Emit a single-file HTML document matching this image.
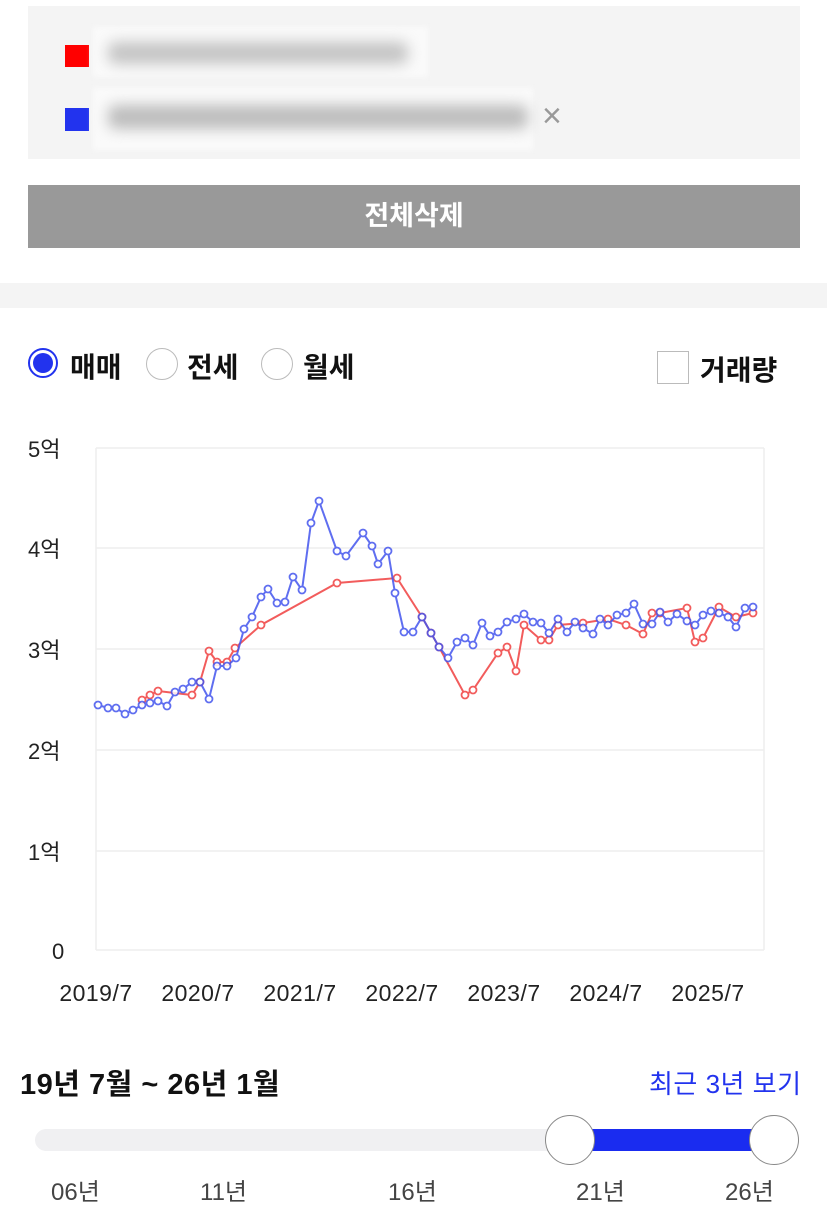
<!DOCTYPE html>
<html><head><meta charset="utf-8"><style>
body{margin:0;width:827px;height:1221px;background:#fff;font-family:"Liberation Sans","Noto Sans CJK KR",sans-serif;position:relative;overflow:hidden}
.a{position:absolute}
.blur{background:#aaa;filter:blur(7px);border-radius:8px}
</style></head><body>
<div class="a" style="left:28px;top:6px;width:772px;height:153px;background:#f4f4f4"></div>
<div class="a" style="left:65px;top:45px;width:24px;height:22px;background:#ff0000"></div>
<div class="a" style="left:65px;top:108px;width:24px;height:23px;background:#2233ee"></div>
<div class="a" style="left:93px;top:27px;width:335px;height:50px;background:#fafafa;filter:blur(3px)"></div>
<div class="a blur" style="left:108px;top:42px;width:300px;height:22px;background:#c4c4c4"></div>
<div class="a" style="left:93px;top:88px;width:440px;height:62px;background:#fafafa;filter:blur(3px)"></div>
<div class="a blur" style="left:108px;top:105px;width:420px;height:24px;background:#bdbdbd"></div>
<div class="a" style="left:542px;top:98px;font-size:34px;color:#999;line-height:36px">×</div>
<div class="a" style="left:28px;top:185px;width:772px;height:63px;background:#999;color:#fff;font-weight:bold;font-size:27px;text-align:center;line-height:63px">전체삭제</div>
<div class="a" style="left:0;top:283px;width:827px;height:25px;background:#f4f4f4"></div>
<div class="a" style="left:28px;top:348px;width:30px;height:30px;border-radius:50%;border:2px solid #2233ee;box-sizing:border-box;background:#fff"></div>
<div class="a" style="left:33px;top:353px;width:20px;height:20px;border-radius:50%;background:#2233ee"></div>
<div class="a" style="left:70px;top:346px;font-size:28px;font-weight:bold;color:#111">매매</div>
<div class="a" style="left:146px;top:348px;width:32px;height:32px;border-radius:50%;border:1px solid #bbb;box-sizing:border-box"></div>
<div class="a" style="left:187px;top:346px;font-size:28px;font-weight:bold;color:#111">전세</div>
<div class="a" style="left:261px;top:348px;width:32px;height:32px;border-radius:50%;border:1px solid #bbb;box-sizing:border-box"></div>
<div class="a" style="left:303px;top:346px;font-size:28px;font-weight:bold;color:#111">월세</div>
<div class="a" style="left:657px;top:351px;width:32px;height:33px;border:1px solid #bbb;box-sizing:border-box"></div>
<div class="a" style="left:700px;top:349px;font-size:28px;font-weight:bold;color:#111">거래량</div>
<svg class="a" style="left:0;top:420px" width="827" height="600" viewBox="0 420 827 600">
<g stroke="#eee" stroke-width="1.5">
<line x1="96" y1="448" x2="764" y2="448"/><line x1="96" y1="548" x2="764" y2="548"/><line x1="96" y1="649" x2="764" y2="649"/><line x1="96" y1="750" x2="764" y2="750"/><line x1="96" y1="851" x2="764" y2="851"/><line x1="96" y1="950" x2="764" y2="950"/>
<line x1="96" y1="448" x2="96" y2="950"/><line x1="764" y1="448" x2="764" y2="950"/>
</g>
<g font-size="22" fill="#222" font-family="Liberation Sans,Noto Sans CJK KR,sans-serif">
<text x="28" y="457">5억</text><text x="28" y="557">4억</text><text x="28" y="658">3억</text><text x="28" y="759">2억</text><text x="28" y="860">1억</text><text x="52" y="959">0</text>
<g text-anchor="middle" font-size="23" letter-spacing="0.5"><text x="96" y="1001">2019/7</text><text x="198" y="1001">2020/7</text><text x="300" y="1001">2021/7</text><text x="402" y="1001">2022/7</text><text x="504" y="1001">2023/7</text><text x="606" y="1001">2024/7</text><text x="708" y="1001">2025/7</text></g>
</g>
<g id="r" fill="none" stroke="#f04040" stroke-width="2" opacity="0.85">
<polyline points="142,700 150,695 158,691 192,695 200,682 209,651 217,662 227,662 235,648 261,625 337,583 397,578 422,617 431,633 439,647 465,695 473,690 498,653 507,647 516,671 524,625 541,640 549,640 558,625 583,623 608,619 626,625 643,634 652,613 660,613 687,608 695,642 703,638 719,607 736,617 753,613"/>
</g>
<g id="b" fill="none" stroke="#4455ee" stroke-width="2" opacity="0.85">
<polyline points="98,705 108,708 116,708 125,714 133,710 142,705 150,703 158,701 167,706 175,692 183,689 192,682 200,682 209,699 217,666 227,666 236,658 244,629 252,617 261,597 268,589 277,603 285,602 293,577 302,590 311,523 319,501 337,551 346,556 363,533 372,546 378,564 388,551 395,593 404,632 413,632 422,617 431,633 439,647 448,658 457,642 465,638 473,645 482,623 490,636 498,632 507,622 516,619 524,614 533,622 541,623 549,633 558,619 567,632 575,622 583,628 593,634 600,619 608,625 617,615 626,613 634,604 643,624 652,624 660,612 668,622 677,614 687,621 695,625 703,615 711,611 719,613 728,617 736,627 745,608 753,607"/>
</g>
</svg>
<div class="a" style="left:20px;top:1061px;font-size:29px;font-weight:bold;color:#111;letter-spacing:0.5px">19년 7월 ~ 26년 1월</div>
<div class="a" style="left:649px;top:1064px;font-size:26px;color:#2233ee;letter-spacing:0.5px">최근 3년 보기</div>
<div class="a" style="left:35px;top:1129px;width:560px;height:22px;border-radius:11px;background:#f0f0f2"></div>
<div class="a" style="left:570px;top:1129px;width:205px;height:22px;background:#1a2cf0"></div>
<div class="a" style="left:545px;top:1115px;width:50px;height:50px;border-radius:50%;background:#fff;border:1px solid #888;box-sizing:border-box"></div>
<div class="a" style="left:749px;top:1115px;width:50px;height:50px;border-radius:50%;background:#fff;border:1px solid #888;box-sizing:border-box"></div>
<div class="a" style="left:51px;top:1172px;font-size:24px;color:#444">06년</div>
<div class="a" style="left:200px;top:1172px;font-size:24px;color:#444">11년</div>
<div class="a" style="left:388px;top:1172px;font-size:24px;color:#444">16년</div>
<div class="a" style="left:576px;top:1172px;font-size:24px;color:#444">21년</div>
<div class="a" style="left:725px;top:1172px;font-size:24px;color:#444">26년</div>
<script>
function dots(id,col){var pl=document.querySelector('#'+id+' polyline');var g=document.getElementById(id);pl.getAttribute('points').trim().split(/\s+/).forEach(function(p){var xy=p.split(',');var c=document.createElementNS('http://www.w3.org/2000/svg','circle');c.setAttribute('cx',xy[0]);c.setAttribute('cy',xy[1]);c.setAttribute('r','3.5');c.setAttribute('fill','#fff');c.setAttribute('stroke',col);c.setAttribute('stroke-width','1.8');g.appendChild(c);});}
dots('r','#f04040');dots('b','#4455ee');
</script>
</body></html>
